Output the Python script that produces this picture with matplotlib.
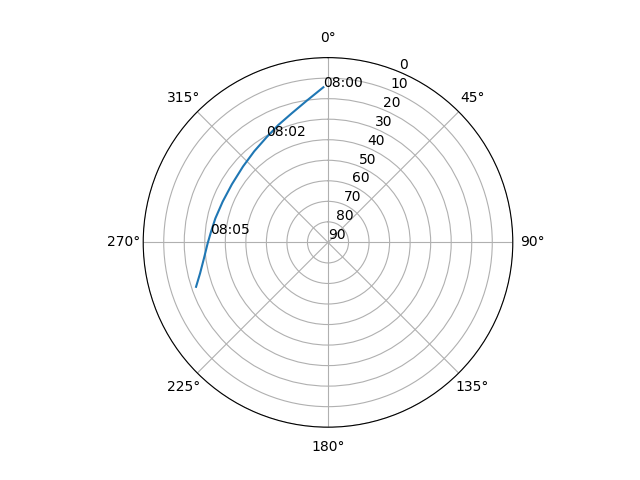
import numpy as np
import matplotlib
matplotlib.use("Agg")
from matplotlib import pyplot as plt

# satellite track: azimuth (deg, clockwise from N), elevation (deg)
azimuth = [358.3, 351.5, 344.3, 337.1, 329.7, 321.0, 311.8, 301.2, 291.2,
           282.0, 275.2, 269.6, 262.7, 256.4, 251.4]
elevation = [14.4, 20.2, 24.7, 27.9, 30.7, 32.9, 34.5, 35.3, 35.0,
             33.9, 32.8, 31.4, 29.1, 25.9, 22.2]

# time labels along the track
label_times = ["08:00", "08:02", "08:05"]
label_az = [358.3, 330.0, 274.0]
label_el = [14.4, 30.2, 32.5]

fig = plt.figure(figsize=(6.4, 4.8), dpi=100)
ax = fig.add_subplot(projection="polar")
ax.set_theta_zero_location("N")
ax.set_theta_direction(-1)

ax.plot(np.radians(azimuth), elevation)
for t, a, e in zip(label_times, label_az, label_el):
    ax.text(np.radians(a), e, t)

ax.set_rlim(90, 0)
ax.set_yticks(range(0, 91, 10))

fig.savefig("out.png")
